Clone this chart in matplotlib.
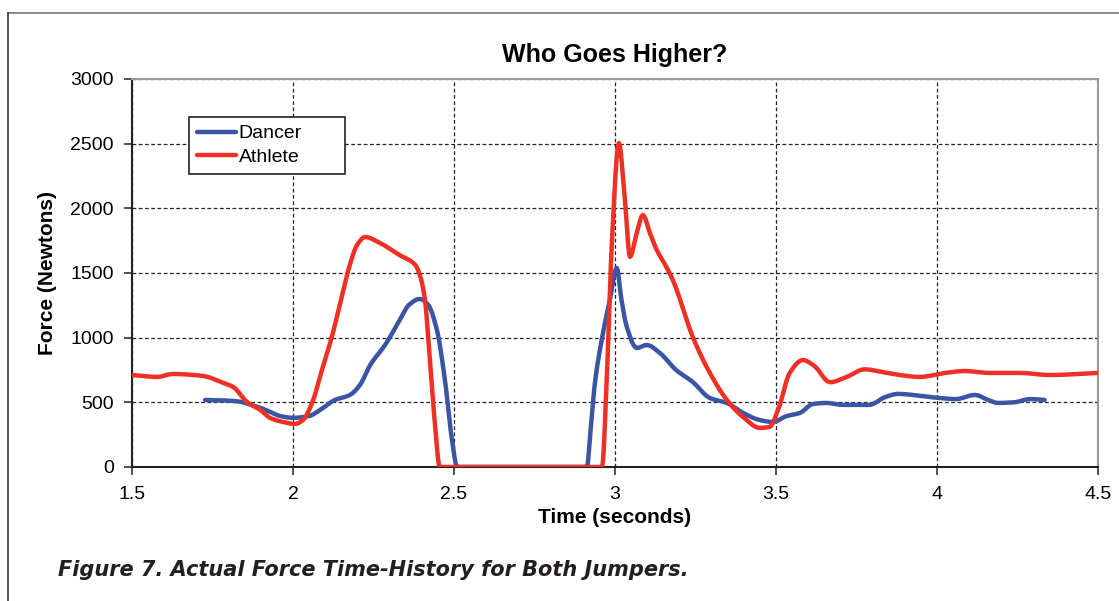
import matplotlib
matplotlib.use("Agg")
import matplotlib.pyplot as plt
from matplotlib.lines import Line2D
import numpy as np

plt.rcParams["font.family"] = ["Liberation Sans", "DejaVu Sans"]

# Dancer force trace (time in s, force in N)
dancer_t = [1.727, 1.78, 1.835, 1.87, 1.90, 1.93, 1.96, 2.0, 2.05, 2.084, 2.13,
            2.177, 2.208, 2.24, 2.286, 2.332, 2.36, 2.394, 2.42, 2.447, 2.472,
            2.494, 2.51, 2.6, 2.8, 2.913, 2.925, 2.938, 2.963, 2.985, 3.006,
            3.02, 3.037, 3.068, 3.099, 3.14, 3.19, 3.242, 3.295, 3.348, 3.398,
            3.45, 3.49, 3.534, 3.575, 3.615, 3.658, 3.708, 3.76, 3.79, 3.84,
            3.88, 3.95, 4.01, 4.06, 4.118, 4.16, 4.19, 4.24, 4.29, 4.335]
dancer_f = [518, 515, 505, 480, 456, 425, 394, 380, 394, 440, 518,
            557, 634, 789, 943, 1137, 1253, 1299, 1253, 1060, 673,
            209, 0, 0, 0, 0, 300, 650, 1036, 1300, 1539,
            1300, 1083, 920, 943, 881, 750, 657, 533, 495, 418,
            363, 348, 394, 418, 487, 495, 480, 480, 480, 541,
            565, 550, 533, 525, 557, 518, 495, 500, 525, 518]

# Athlete force trace
athlete_t = [1.5, 1.578, 1.627, 1.72, 1.783, 1.814, 1.857, 1.898, 1.929, 1.969,
             2.006, 2.031, 2.06, 2.09, 2.12, 2.15, 2.175, 2.2, 2.224, 2.27,
             2.33, 2.38, 2.394, 2.41, 2.425, 2.44, 2.456, 2.6, 2.8, 2.96,
             2.975, 2.99, 3.0124, 3.03, 3.047, 3.067, 3.087, 3.11, 3.13, 3.16,
             3.18, 3.242, 3.295, 3.348, 3.398, 3.45, 3.48, 3.51, 3.543, 3.584,
             3.62, 3.668, 3.72, 3.775, 3.84, 3.885, 3.947, 4.025, 4.087,
             4.165, 4.26, 4.35, 4.5]
athlete_f = [711, 696, 719, 704, 650, 619, 503, 441, 379, 348,
             333, 363, 500, 750, 1000, 1300, 1550, 1720, 1778, 1732,
             1640, 1562, 1485, 1291, 827, 363, 0, 0, 0, 0,
             700, 1700, 2505, 2100, 1624, 1800, 1948, 1800, 1678, 1546,
             1446, 1005, 727, 518, 387, 302, 309, 464, 727, 827,
             780, 655, 696, 755, 730, 711, 696, 727, 742,
             727, 727, 711, 727]

x_ticks = [1.5, 2, 2.5, 3, 3.5, 4, 4.5]
x_tick_labels = ["1.5", "2", "2.5", "3", "3.5", "4", "4.5"]
y_ticks = [0, 500, 1000, 1500, 2000, 2500, 3000]


def smooth(t, f, n=6):
    """Densify with a shape-preserving cubic through the read-off points."""
    t = np.asarray(t, float)
    f = np.asarray(f, float)
    h = np.diff(t)
    d = np.diff(f) / h
    m = np.zeros_like(f)
    for i in range(1, len(f) - 1):
        if d[i - 1] * d[i] > 0:
            w1 = 2 * h[i] + h[i - 1]
            w2 = h[i] + 2 * h[i - 1]
            m[i] = (w1 + w2) / (w1 / d[i - 1] + w2 / d[i])
    m[0] = d[0]
    m[-1] = d[-1]
    out_t, out_f = [], []
    for i in range(len(t) - 1):
        s = np.linspace(0, 1, n, endpoint=False)
        h00 = 2 * s**3 - 3 * s**2 + 1
        h10 = s**3 - 2 * s**2 + s
        h01 = -2 * s**3 + 3 * s**2
        h11 = s**3 - s**2
        out_t.extend(t[i] + s * h[i])
        out_f.extend(h00 * f[i] + h10 * h[i] * m[i]
                     + h01 * f[i + 1] + h11 * h[i] * m[i + 1])
    out_t.append(t[-1])
    out_f.append(f[-1])
    return np.array(out_t), np.maximum(np.array(out_f), 0)


fig = plt.figure(figsize=(11.19, 6.01), dpi=100)
ax = fig.add_axes([0.118, 0.223, 0.863, 0.6456])

dt, df = smooth(dancer_t, dancer_f)
at, af = smooth(athlete_t, athlete_f)
ax.plot(dt, df, color="#3a55a4", linewidth=3.2, label="Dancer",
        solid_capstyle="round", zorder=3)
ax.plot(at, af, color="#ee3124", linewidth=3.2, label="Athlete",
        solid_capstyle="round", zorder=4)

ax.set_xlim(1.5, 4.5)
ax.set_ylim(0, 3000)
ax.set_xticks(x_ticks)
ax.set_xticklabels(x_tick_labels)
ax.set_yticks(y_ticks)
ax.tick_params(axis="both", labelsize=14, length=6, width=1.2,
               direction="out", color="#333333")
ax.tick_params(axis="x", pad=8)
ax.tick_params(axis="y", pad=7)

ax.grid(True, color="#222222", linestyle=(0, (3, 2)), linewidth=0.9)
ax.set_axisbelow(True)

for side in ["top", "right"]:
    ax.spines[side].set_color("#9a9a9a")
    ax.spines[side].set_linewidth(1.5)
for side in ["left", "bottom"]:
    ax.spines[side].set_color("#222222")
    ax.spines[side].set_linewidth(1.5)

ax.set_title("Who Goes Higher?", fontsize=18, fontweight="bold", pad=12)
ax.set_xlabel("Time (seconds)", fontsize=15, fontweight="bold", labelpad=3)
ax.set_ylabel("Force (Newtons)", fontsize=15, fontweight="bold", labelpad=10)

leg = ax.legend(loc="upper left", bbox_to_anchor=(0.059, 0.902), fontsize=14,
                frameon=True, fancybox=False, edgecolor="#222222",
                handlelength=2.0, handletextpad=0.15, borderpad=0.4,
                labelspacing=0.3, borderaxespad=0, alignment="left")
leg.get_frame().set_linewidth(1.2)
leg.get_frame().set_alpha(1)
# stretch the legend box to the reference width
leg._legend_box.set_width(140)

# outer frame (top and left edges only visible)
fig.add_artist(Line2D([8 / 1119, 1.0], [1 - 13 / 601, 1 - 13 / 601],
                      color="#777777", linewidth=1.2))
fig.add_artist(Line2D([8 / 1119, 8 / 1119], [0, 1 - 13 / 601],
                      color="#333333", linewidth=1.2))

fig.text(58 / 1119, 1 - 570 / 601,
         "Figure 7. Actual Force Time-History for Both Jumpers.",
         fontsize=15, fontweight="bold", fontstyle="italic",
         family=["DejaVu Sans"], color="#231f20", va="center")

fig.savefig("out.png", dpi=100)
